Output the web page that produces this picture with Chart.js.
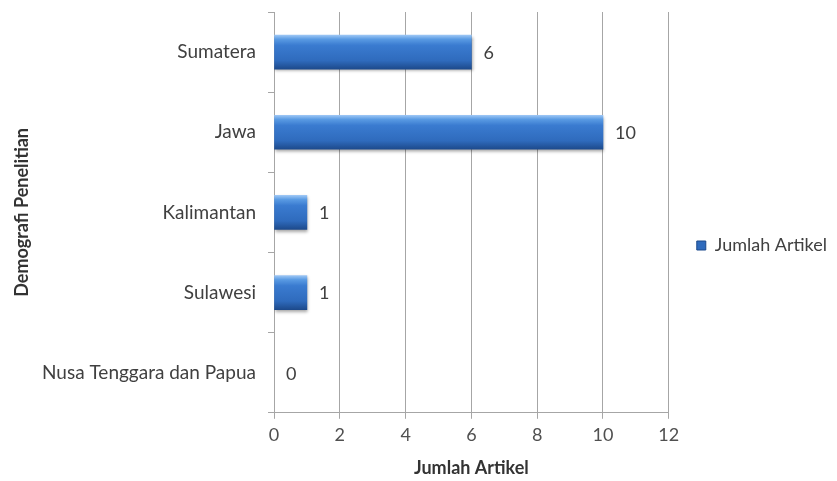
<!DOCTYPE html>
<html>
<head>
<meta charset="utf-8">
<script src="https://cdn.jsdelivr.net/npm/chart.js@4"></script>
<style>
  html, body { margin: 0; padding: 0; background: #fff; }
  #wrap { width: 837px; height: 481px; }
</style>
</head>
<body>
<div id="wrap"><canvas id="chart" width="837" height="481"></canvas></div>
<script>
// data
const categories = ["Sumatera", "Jawa", "Kalimantan", "Sulawesi", "Nusa Tenggara dan Papua"];
const articleCounts = [6, 10, 1, 1, 0];
const seriesName = "Jumlah Artikel";
const xTitle = "Jumlah Artikel";
const yTitle = "Demografi Penelitian";

const FONT = "Lato, 'Open Sans', sans-serif";

// vertical gradient per bar to fake the old office 3D look
function barFill(context) {
    const chart = context.chart;
    const yScale = chart.scales.y;
    if (articleCounts[context.dataIndex] === 0) return "rgba(0,0,0,0)";
    if (!yScale || !chart.chartArea) return "#3a78c8";
    const mid = yScale.getPixelForValue(context.dataIndex);
    const half = 17;
    const g = chart.ctx.createLinearGradient(0, mid - half, 0, mid + half);
    g.addColorStop(0, "#9cc6f5");
    g.addColorStop(0.12, "#5a9be3");
    g.addColorStop(0.3, "#3a7bd0");
    g.addColorStop(0.75, "#2f6bbd");
    g.addColorStop(1, "#1d4a8c");
    return g;
}

// value labels at bar ends
const valueLabels = {
    id: "valueLabels",
    afterDatasetsDraw(chart) {
        const ctx = chart.ctx;
        const meta = chart.getDatasetMeta(0);
        ctx.save();
        ctx.font = "18px " + FONT;
        ctx.fillStyle = "#404040";
        ctx.textAlign = "left";
        ctx.textBaseline = "middle";
        meta.data.forEach((bar, i) => {
            ctx.fillText(String(articleCounts[i]), bar.x + 12, bar.y + 1);
        });
        ctx.restore();
    }
};

// soft shadow under the bars
const barShadow = {
    id: "barShadow",
    beforeDatasetsDraw(chart) {
        const ctx = chart.ctx;
        ctx.save();
        ctx.shadowColor = "rgba(0,0,0,0.35)";
        ctx.shadowBlur = 3;
        ctx.shadowOffsetX = 1;
        ctx.shadowOffsetY = 2;
    },
    afterDatasetsDraw(chart) {
        chart.ctx.restore();
    }
};

new Chart(document.getElementById("chart"), {
    type: "bar",
    data: {
        labels: categories,
        datasets: [{
            label: seriesName,
            data: articleCounts,
            backgroundColor: barFill,
            borderWidth: 0,
            barThickness: 34
        }]
    },
    options: {
        indexAxis: "y",
        responsive: false,
        animation: false,
        layout: { padding: { top: 12, right: 0, bottom: 2, left: 7 } },
        scales: {
            x: {
                min: 0,
                max: 12,
                ticks: {
                    stepSize: 2,
                    color: "#505050",
                    font: { family: FONT, size: 18 },
                    padding: 6
                },
                grid: {
                    color: "#a6a6a6",
                    lineWidth: 1,
                    tickLength: 6,
                    tickColor: "#a6a6a6"
                },
                border: { color: "#a6a6a6" },
                title: {
                    display: true,
                    text: xTitle,
                    color: "#333",
                    font: { family: FONT, size: 18, weight: "bold" },
                    padding: { top: 5, bottom: 0 }
                }
            },
            y: {
                afterFit(scale) {
                    scale.width = 267;
                    scale.paddingTop = 0;
                    scale.paddingBottom = 0;
                },
                ticks: {
                    color: "#404040",
                    font: { family: FONT, size: 19 },
                    padding: 12
                },
                grid: {
                    drawOnChartArea: false,
                    offset: true,
                    tickLength: 6,
                    tickColor: "#a6a6a6"
                },
                border: { color: "#a6a6a6" },
                title: {
                    display: true,
                    text: yTitle,
                    color: "#333",
                    font: { family: FONT, size: 18, weight: "bold" },
                    padding: { top: 4, bottom: 8 }
                }
            }
        },
        plugins: {
            legend: {
                position: "right",
                labels: {
                    boxWidth: 9,
                    boxHeight: 9,
                    padding: 28,
                    color: "#404040",
                    font: { family: FONT, size: 18 },
                    generateLabels() {
                        return [{
                            text: seriesName,
                            fillStyle: "#2f6bbd",
                            strokeStyle: "#1d4a8c",
                            lineWidth: 1,
                            fontColor: "#404040"
                        }];
                    }
                }
            },
            tooltip: { enabled: false }
        }
    },
    plugins: [barShadow, valueLabels]
});
</script>
</body>
</html>
